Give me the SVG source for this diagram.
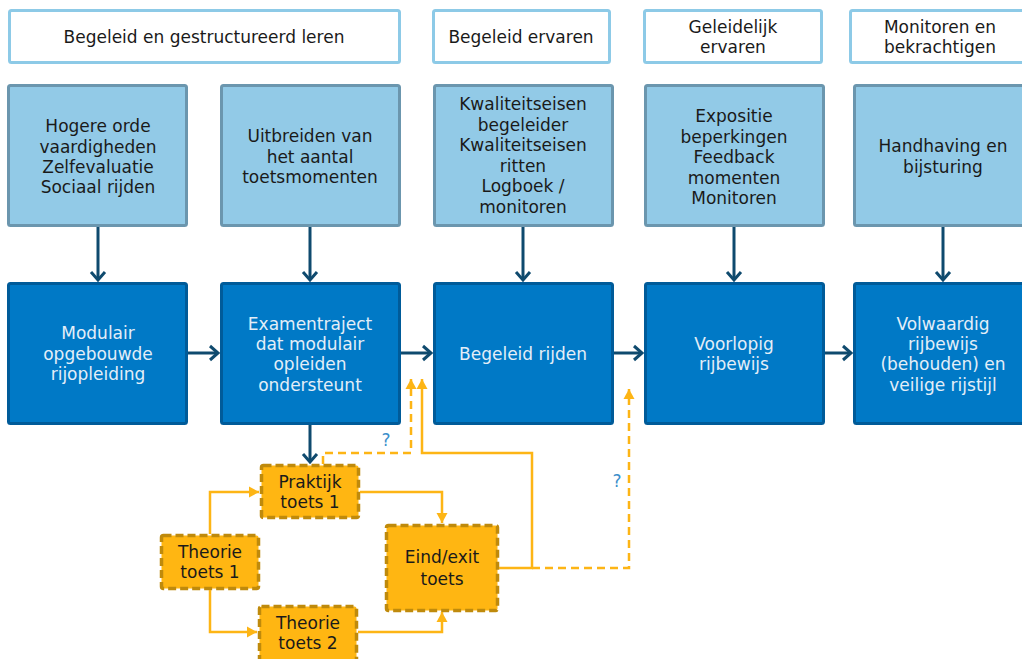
<svg xmlns="http://www.w3.org/2000/svg" width="1022" height="659" viewBox="0 0 1022 659">
<style>
text{font-family:"DejaVu Sans","Verdana",sans-serif;font-size:17px;text-anchor:middle}
.hdr{fill:#fff;stroke:#8DCAE7;stroke-width:3}
.lb{fill:#92CAE7;stroke:#6B96AE;stroke-width:3}
.db{fill:#0079C6;stroke:#005B99;stroke-width:3}
.ob{fill:#FFB612;stroke:#BF8A0C;stroke-width:3.5;stroke-dasharray:8 4}
.dk{fill:#1a1a1a}
.wt{fill:#E3EEF8}
.nav{fill:none;stroke:#0F4A6E;stroke-width:3}
.or{fill:none;stroke:#FDB515;stroke-width:2.5}
.ord{fill:none;stroke:#FDB515;stroke-width:2.5;stroke-dasharray:8 5}
.q{fill:#3C8FCB}
</style>
<defs>
<marker id="nh" markerUnits="userSpaceOnUse" viewBox="0 0 20 20" markerWidth="20" markerHeight="20" refX="11" refY="10" orient="auto">
<path d="M3,3 L11,10 L3,17" fill="none" stroke="#0F4A6E" stroke-width="3"/>
</marker>
<marker id="oh" markerUnits="userSpaceOnUse" viewBox="0 0 12 12" markerWidth="12" markerHeight="12" refX="11" refY="6" orient="auto">
<path d="M1,0.5 L11,6 L1,11.5 z" fill="#FDB515"/>
</marker>
</defs>

<g id="header1"><rect class="hdr" x="9.5" y="10.5" width="390" height="52" rx="2"/><text class="dk" x="204" y="43">Begeleid en gestructureerd leren</text></g>
<g id="header2"><rect class="hdr" x="433.5" y="10.5" width="176" height="52" rx="2"/><text class="dk" x="521" y="43">Begeleid ervaren</text></g>
<g id="header3"><rect class="hdr" x="644.5" y="10.5" width="177" height="52" rx="2"/><text class="dk" x="733" y="33">Geleidelijk</text><text class="dk" x="733" y="53">ervaren</text></g>
<g id="header4"><rect class="hdr" x="850.5" y="10.5" width="180" height="52" rx="2"/><text class="dk" x="940" y="33">Monitoren en</text><text class="dk" x="940" y="53">bekrachtigen</text></g>

<g id="lb1"><rect class="lb" x="8.5" y="85.5" width="178" height="140" rx="2"/><text class="dk" x="98" y="132">Hogere orde</text><text class="dk" x="98" y="152.5">vaardigheden</text><text class="dk" x="98" y="173">Zelfevaluatie</text><text class="dk" x="98" y="193">Sociaal rijden</text></g>
<g id="lb2"><rect class="lb" x="221.5" y="85.5" width="178" height="140" rx="2"/><text class="dk" x="310" y="142">Uitbreiden van</text><text class="dk" x="310" y="162.5">het aantal</text><text class="dk" x="310" y="183">toetsmomenten</text></g>
<g id="lb3"><rect class="lb" x="434.5" y="85.5" width="178" height="140" rx="2"/><text class="dk" x="523" y="110">Kwaliteitseisen</text><text class="dk" x="523" y="130.5">begeleider</text><text class="dk" x="523" y="151">Kwaliteitseisen</text><text class="dk" x="523" y="171.5">ritten</text><text class="dk" x="523" y="192">Logboek /</text><text class="dk" x="523" y="212.5">monitoren</text></g>
<g id="lb4"><rect class="lb" x="645.5" y="85.5" width="178" height="140" rx="2"/><text class="dk" x="734" y="122">Expositie</text><text class="dk" x="734" y="142.5">beperkingen</text><text class="dk" x="734" y="163">Feedback</text><text class="dk" x="734" y="183.5">momenten</text><text class="dk" x="734" y="204">Monitoren</text></g>
<g id="lb5"><rect class="lb" x="854.5" y="85.5" width="178" height="140" rx="2"/><text class="dk" x="943" y="152">Handhaving en</text><text class="dk" x="943" y="172.5">bijsturing</text></g>

<g id="db1"><rect class="db" x="8.5" y="283.5" width="178" height="140" rx="2"/><text class="wt" x="98" y="339">Modulair</text><text class="wt" x="98" y="360">opgebouwde</text><text class="wt" x="98" y="380">rijopleiding</text></g>
<g id="db2"><rect class="db" x="221.5" y="283.5" width="178" height="140" rx="2"/><text class="wt" x="310" y="330">Examentraject</text><text class="wt" x="310" y="350">dat modulair</text><text class="wt" x="310" y="370">opleiden</text><text class="wt" x="310" y="391">ondersteunt</text></g>
<g id="db3"><rect class="db" x="434.5" y="283.5" width="178" height="140" rx="2"/><text class="wt" x="523" y="360">Begeleid rijden</text></g>
<g id="db4"><rect class="db" x="645.5" y="283.5" width="178" height="140" rx="2"/><text class="wt" x="734" y="350">Voorlopig</text><text class="wt" x="734" y="370">rijbewijs</text></g>
<g id="db5"><rect class="db" x="854.5" y="283.5" width="178" height="140" rx="2"/><text class="wt" x="943" y="330">Volwaardig</text><text class="wt" x="943" y="350">rijbewijs</text><text class="wt" x="943" y="370">(behouden) en</text><text class="wt" x="943" y="391">veilige rijstijl</text></g>

<g id="ob1"><rect class="ob" x="261.5" y="465.5" width="97" height="52" rx="2"/><text class="dk" x="310" y="488">Praktijk</text><text class="dk" x="310" y="508">toets 1</text></g>
<g id="ob2"><rect class="ob" x="161.5" y="535.5" width="97" height="53" rx="2"/><text class="dk" x="210" y="558">Theorie</text><text class="dk" x="210" y="578">toets 1</text></g>
<g id="ob3"><rect class="ob" x="259.5" y="606.5" width="97" height="60" rx="2"/><text class="dk" x="308" y="629">Theorie</text><text class="dk" x="308" y="649">toets 2</text></g>
<g id="ob4"><rect class="ob" x="386.5" y="525.5" width="111" height="85" rx="2"/><text class="dk" x="442" y="563">Eind/exit</text><text class="dk" x="442" y="585">toets</text></g>

<g id="connectors">
<path class="nav" d="M98,227 V280" marker-end="url(#nh)"/>
<path class="nav" d="M310,227 V280" marker-end="url(#nh)"/>
<path class="nav" d="M523,227 V280" marker-end="url(#nh)"/>
<path class="nav" d="M734,227 V280" marker-end="url(#nh)"/>
<path class="nav" d="M943,227 V280" marker-end="url(#nh)"/>
<path class="nav" d="M188,353 H218" marker-end="url(#nh)"/>
<path class="nav" d="M401,353 H431" marker-end="url(#nh)"/>
<path class="nav" d="M614,353 H642" marker-end="url(#nh)"/>
<path class="nav" d="M825,353 H851" marker-end="url(#nh)"/>
<path class="nav" d="M310,425 V462" marker-end="url(#nh)"/>
<path class="or" d="M210,534 V492 H259" marker-end="url(#oh)"/>
<path class="or" d="M210,590 V632 H257" marker-end="url(#oh)"/>
<path class="or" d="M360,492 H442 V523" marker-end="url(#oh)"/>
<path class="or" d="M358,632 H442 V612" marker-end="url(#oh)"/>
<path class="or" d="M499,568 H532 V453 H422 V379" marker-end="url(#oh)"/>
<path class="ord" d="M323,464 V453 H411 V379" marker-end="url(#oh)"/>
<path class="ord" d="M532,568 H629 V389" marker-end="url(#oh)"/>
<text class="q" x="386" y="446">?</text>
<text class="q" x="617" y="487">?</text>
</g>
</svg>
